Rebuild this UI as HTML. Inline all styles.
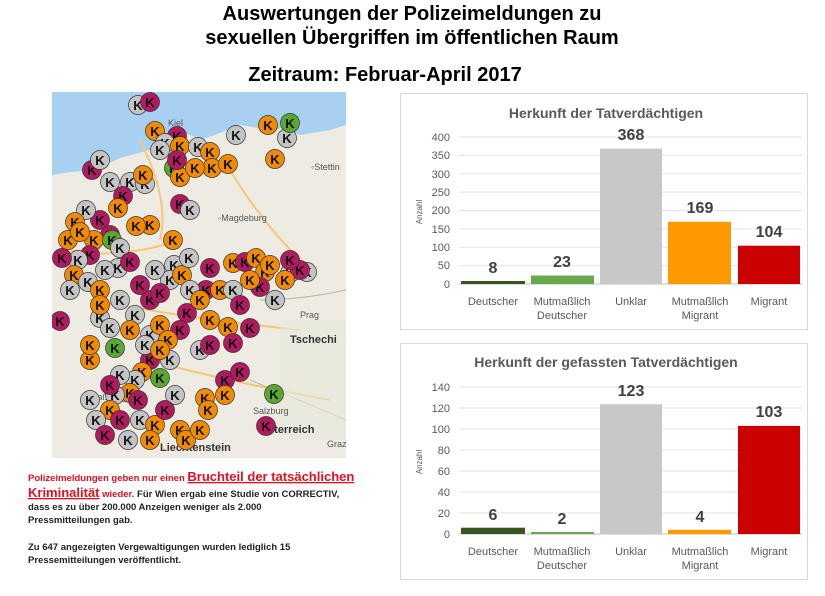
<!DOCTYPE html>
<html><head><meta charset="utf-8"><style>
body{margin:0;background:#fff;width:825px;height:591px;overflow:hidden;font-family:"Liberation Sans",sans-serif}
</style></head><body>
<svg id="s" width="825" height="591" xmlns="http://www.w3.org/2000/svg" font-family="Liberation Sans, sans-serif">
<g font-weight="bold" font-size="20" text-anchor="middle" fill="#000">
<text x="412" y="20">Auswertungen der Polizeimeldungen zu</text>
<text x="412" y="44">sexuellen Übergriffen im öffentlichen Raum</text>
<text x="385" y="81">Zeitraum: Februar-April 2017</text>
</g>
<defs><clipPath id="mc"><rect x="52" y="92" width="294" height="366"/></clipPath></defs>
<g clip-path="url(#mc)">
<rect x="52" y="92" width="294" height="366" fill="#eeebe2"/>
<path d="M52 92 H346 V125 L330 130 L300 135 L285 128 L270 130 L240 125 L215 135 L200 140 L180 130 L170 145 L150 150 L120 158 L95 170 L70 172 L52 175 Z" fill="#a8d0f0"/>
<path d="M140 140 Q170 200 160 240 M230 170 Q260 220 300 260 M90 300 Q200 320 300 330 M150 360 Q220 380 330 400 M70 250 Q120 260 180 240" stroke="#f5c77a" stroke-width="2" fill="none"/>
<path d="M260 300 Q300 300 346 290 M250 380 Q300 400 346 420" stroke="#b9b2a8" stroke-width="1" fill="none"/>
<rect x="280" y="320" width="66" height="120" fill="#e6eadb" opacity="0.6"/>
<g font-size="9" fill="#555"><text x="311" y="170">◦Stettin</text><text x="218" y="221">◦Magdeburg</text><text x="300" y="318">Prag</text><text x="168" y="126">Kiel</text><text x="86" y="400">Straßburg</text><text x="253" y="414">Salzburg</text><text x="327" y="447">Graz</text></g>
<g font-size="11" font-weight="bold" fill="#333"><text x="290" y="343">Tschechi</text><text x="268" y="433">sterreich</text><text x="160" y="451">Liechtenstein</text></g>
<g id="mk"></g>
</g>
<g font-size="9.5" font-weight="bold">
<text x="28" y="481" fill="#e01020">Polizeimeldungen geben nur einen <tspan font-size="13" text-decoration="underline">Bruchteil der tatsächlichen</tspan></text>
<text x="28" y="497" fill="#e01020"><tspan font-size="13" text-decoration="underline">Kriminalität</tspan> wieder. <tspan fill="#222">Für Wien ergab eine Studie von CORRECTIV,</tspan></text>
<text x="28" y="510" fill="#222">dass es zu über 200.000 Anzeigen weniger als 2.000</text>
<text x="28" y="523" fill="#222">Pressmitteilungen gab.</text>
<text x="28" y="550" fill="#222">Zu 647 angezeigten Vergewaltigungen wurden lediglich 15</text>
<text x="28" y="563" fill="#222">Pressemitteilungen veröffentlicht.</text>
</g>
<rect x="400.5" y="93.5" width="407" height="236" fill="#fff" stroke="#d9d9d9"/>
<text x="606" y="118" font-size="14" font-weight="bold" fill="#595959" text-anchor="middle">Herkunft  der Tatverdächtigen</text>
<g stroke="#e3e3e3"><line x1="459" x2="802" y1="137" y2="137"/><line x1="459" x2="802" y1="155.4" y2="155.4"/><line x1="459" x2="802" y1="173.8" y2="173.8"/><line x1="459" x2="802" y1="192.1" y2="192.1"/><line x1="459" x2="802" y1="210.5" y2="210.5"/><line x1="459" x2="802" y1="228.9" y2="228.9"/><line x1="459" x2="802" y1="247.3" y2="247.3"/><line x1="459" x2="802" y1="265.6" y2="265.6"/><line x1="459" x2="802" y1="284" y2="284" stroke="#bfbfbf"/></g>
<g font-size="11" fill="#595959" text-anchor="end"><text x="450" y="141">400</text><text x="450" y="159">350</text><text x="450" y="178">300</text><text x="450" y="196">250</text><text x="450" y="214">200</text><text x="450" y="233">150</text><text x="450" y="251">100</text><text x="450" y="269">50</text><text x="450" y="288">0</text></g>
<text transform="translate(422 212) rotate(-90)" font-size="8" fill="#595959" text-anchor="middle">Anzahl</text>
<rect x="461" y="281" width="64" height="3" fill="#375623"/>
<rect x="531" y="275.5" width="63" height="8.5" fill="#6aa84f"/>
<rect x="600" y="148.6" width="62" height="135.4" fill="#c8c8c8"/>
<rect x="668" y="221.8" width="63" height="62.2" fill="#ff9900"/>
<rect x="738" y="245.7" width="62" height="38.3" fill="#cc0000"/>
<g font-size="16" font-weight="bold" fill="#404040" text-anchor="middle"><text x="493" y="273">8</text><text x="562" y="267">23</text><text x="631" y="140">368</text><text x="700" y="213">169</text><text x="769" y="237">104</text></g>
<g font-size="11" fill="#595959" text-anchor="middle"><text x="493" y="305">Deutscher</text><text x="562" y="305">Mutmaßlich</text><text x="562" y="319">Deutscher</text><text x="631" y="305">Unklar</text><text x="700" y="305">Mutmaßlich</text><text x="700" y="319">Migrant</text><text x="769" y="305">Migrant</text></g>
<rect x="400.5" y="343.5" width="407" height="236" fill="#fff" stroke="#d9d9d9"/>
<text x="606" y="367" font-size="14" font-weight="bold" fill="#595959" text-anchor="middle">Herkunft  der gefassten Tatverdächtigen</text>
<g stroke="#e3e3e3"><line x1="459" x2="802" y1="387" y2="387"/><line x1="459" x2="802" y1="408" y2="408"/><line x1="459" x2="802" y1="429" y2="429"/><line x1="459" x2="802" y1="450" y2="450"/><line x1="459" x2="802" y1="471" y2="471"/><line x1="459" x2="802" y1="492" y2="492"/><line x1="459" x2="802" y1="513" y2="513"/><line x1="459" x2="802" y1="534" y2="534" stroke="#bfbfbf"/></g>
<g font-size="11" fill="#595959" text-anchor="end"><text x="450" y="391">140</text><text x="450" y="412">120</text><text x="450" y="433">100</text><text x="450" y="454">80</text><text x="450" y="475">60</text><text x="450" y="496">40</text><text x="450" y="517">20</text><text x="450" y="538">0</text></g>
<text transform="translate(422 462) rotate(-90)" font-size="8" fill="#595959" text-anchor="middle">Anzahl</text>
<rect x="461" y="527.7" width="64" height="6.3" fill="#375623"/>
<rect x="531" y="532" width="63" height="2" fill="#6aa84f"/>
<rect x="600" y="404.2" width="62" height="129.8" fill="#c8c8c8"/>
<rect x="668" y="529.8" width="63" height="4.2" fill="#ff9900"/>
<rect x="738" y="425.9" width="62" height="108.1" fill="#cc0000"/>
<g font-size="16" font-weight="bold" fill="#404040" text-anchor="middle"><text x="493" y="520">6</text><text x="562" y="524">2</text><text x="631" y="396">123</text><text x="700" y="522">4</text><text x="769" y="417">103</text></g>
<g font-size="11" fill="#595959" text-anchor="middle"><text x="493" y="555">Deutscher</text><text x="562" y="555">Mutmaßlich</text><text x="562" y="569">Deutscher</text><text x="631" y="555">Unklar</text><text x="700" y="555">Mutmaßlich</text><text x="700" y="569">Migrant</text><text x="769" y="555">Migrant</text></g>
</svg>
<script>
var pts="g138,105 m150,102 o155,131 m177,136 g165,143 o180,146 g198,147 o210,152 g236,135 o268,125 g287,138 G290,123 o212,168 G174,168 o228,164 o275,159 o180,177 g110,182 g130,182 m123,196 g145,184 o143,175 m180,204 g190,210 o118,208 m100,220 g86,210 o150,225 o136,226 m110,235 o94,240 G112,240 g120,248 o68,240 m90,255 g78,260 o74,275 g88,282 o173,240 g174,265 g170,280 o182,275 g189,258 m210,268 o233,263 m245,262 o256,258 o265,272 m260,287 o270,265 g290,273 g307,272 m300,270 o250,280 m150,300 m187,313 m206,290 o220,290 g233,290 o228,327 m180,330 g150,335 g135,315 o130,330 o160,325 o168,340 g170,360 m150,360 o142,372 G160,378 g135,380 g120,375 o130,393 g115,395 m138,400 o110,410 g90,400 g96,420 m120,420 g140,420 o155,425 o180,430 o186,440 m110,385 o90,360 G115,348 g100,318 m60,321 o100,290 m160,293 g200,350 m210,345 m225,380 m240,372 o225,395 o205,398 m233,343 m250,328 G274,394 m266,426 o75,222 m92,170 g100,160 g160,150 m177,160 o195,168 g118,268 m130,262 g105,270 o80,232 m62,258 g70,290 o100,305 g120,300 m140,285 g155,270 g190,290 o200,300 g145,345 o160,350 g175,395 m165,410 o150,440 g128,440 m105,435 o200,430 o208,410 m290,260 o285,280 g275,300 m240,305 o210,320 g110,328 o90,345".split(" ");
var cols={o:"#f08a00",m:"#b01a5e",g:"#c4c4c4",G:"#5aa832"};
var h="";pts.forEach(function(p){var c=cols[p[0]],xy=p.slice(1).split(",");h+='<circle cx="'+xy[0]+'" cy="'+xy[1]+'" r="9.5" fill="'+c+'" stroke="#333" stroke-width="0.7"/><text x="'+xy[0]+'" y="'+(+xy[1]+5)+'" font-size="13" font-weight="bold" text-anchor="middle" fill="#111">K</text>';});
document.getElementById("mk").innerHTML=h;
</script>
</body></html>
